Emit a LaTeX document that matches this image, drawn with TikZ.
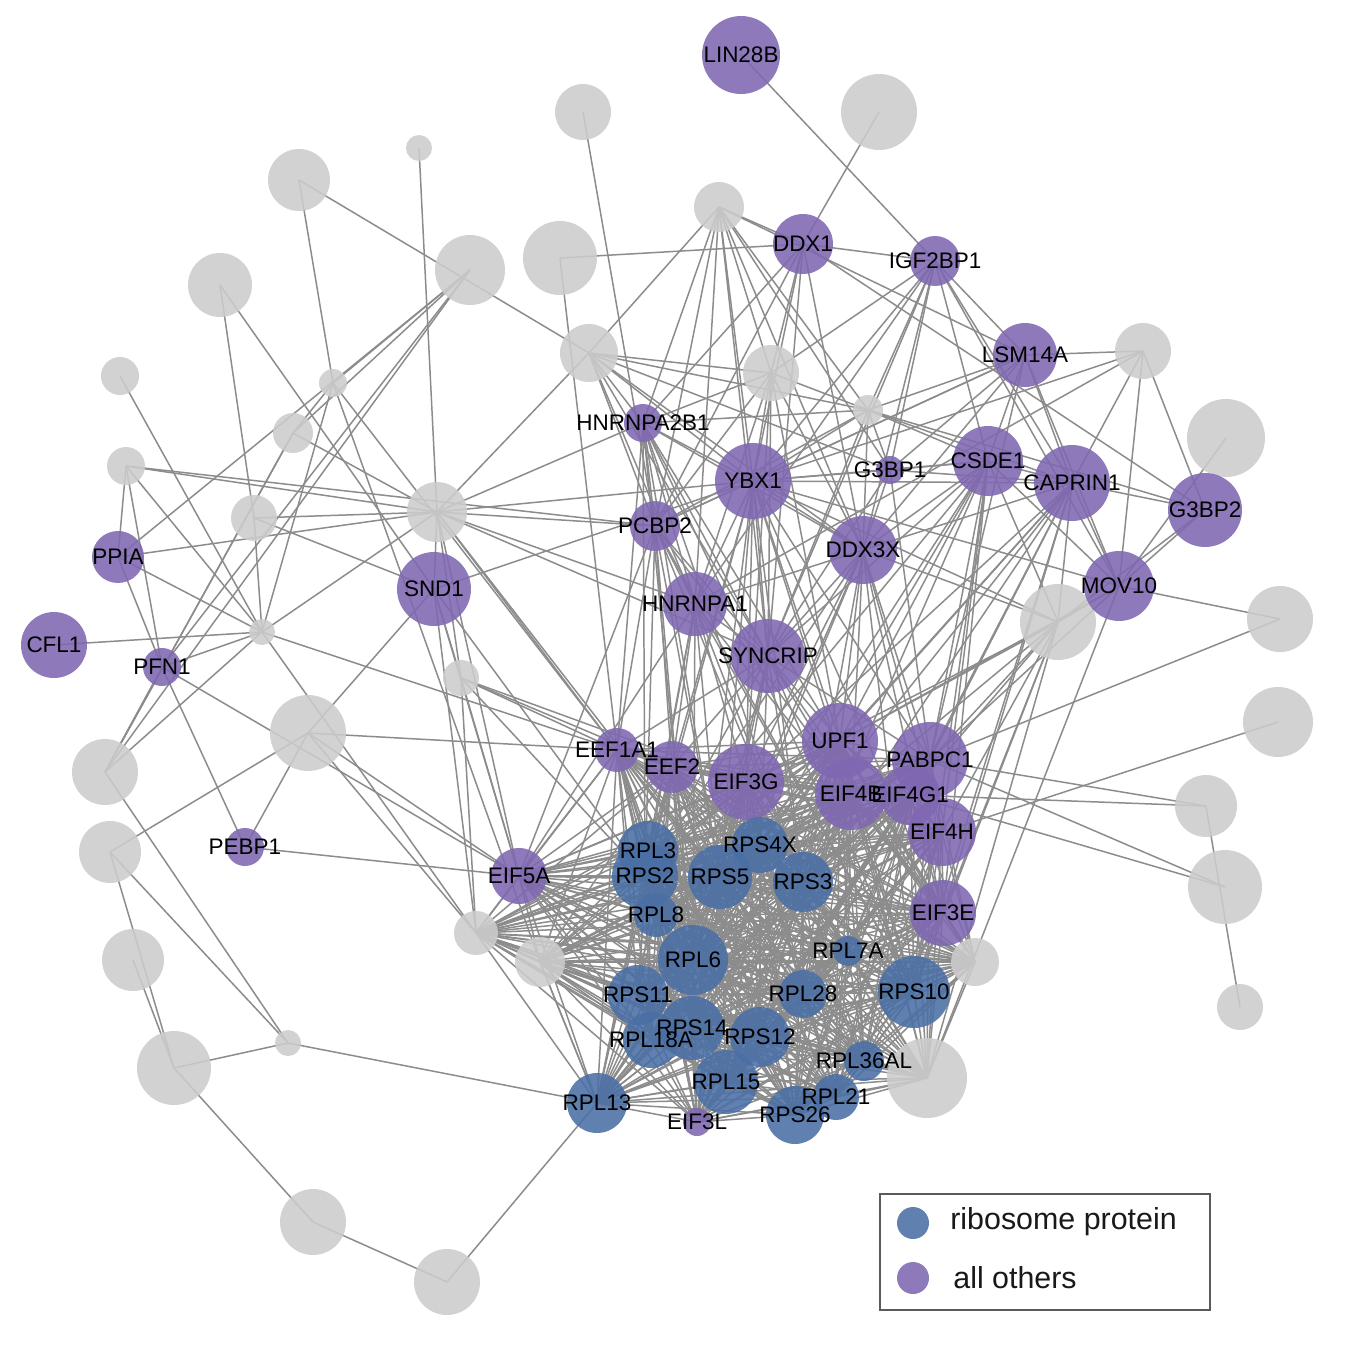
\documentclass[tikz,border=0pt]{standalone}
\usepackage{fontspec}
\setmainfont{Liberation Sans}
\usetikzlibrary{backgrounds}
\definecolor{pur}{RGB}{127,104,178}
\definecolor{blu}{RGB}{74,111,166}
\definecolor{gry}{RGB}{204,204,204}
\definecolor{edg}{RGB}{140,140,140}
\definecolor{legc}{RGB}{90,90,90}
\begin{document}
\begin{tikzpicture}[x=0.02cm,y=-0.02cm,
  nd/.style={circle,inner sep=0pt,draw=none,fill opacity=0.88,minimum size=#1*0.04cm},
  gn/.style={nd=#1,fill=gry},
  pn/.style={nd=#1,fill=pur},
  bn/.style={nd=#1,fill=blu},
  lab/.style={font=\fontsize{12.8}{14}\selectfont,text=black,inner sep=0pt},
  ed/.style={draw=edg,line width=0.85pt},
  edc/.style={draw=edg,line width=0.85pt},
  legtext/.style={font=\fontsize{17.3}{20}\selectfont,text=black!90,anchor=west,inner sep=0pt}]
\useasboundingbox (0,0) rectangle (1348,1366);
% ---------- gray nodes ----------
\node[gn=28] (g1) at (583,112) {};
\node[gn=38] (g2) at (879,112) {};
\node[gn=13] (g3) at (419,148) {};
\node[gn=31] (g4) at (299,180) {};
\node[gn=35] (g5) at (470,270) {};
\node[gn=37] (g6) at (560,258) {};
\node[gn=32] (g7) at (220,285) {};
\node[gn=25] (g8) at (719,207) {};
\node[gn=19] (g9) at (120,376) {};
\node[gn=14] (g10) at (333,383) {};
\node[gn=29] (g11) at (589,353) {};
\node[gn=28] (g12) at (771,373) {};
\node[gn=28] (g13) at (1143,351) {};
\node[gn=20] (g14) at (293,433) {};
\node[gn=15] (g15) at (868,410) {};
\node[gn=19] (g16) at (126,466) {};
\node[gn=39] (g17) at (1226,438) {};
\node[gn=30] (g18) at (437,512) {};
\node[gn=23] (g19) at (254,518) {};
\node[gn=13] (g20) at (262,632) {};
\node[gn=18] (g21) at (461,678) {};
\node[gn=38] (g22) at (308,733) {};
\node[gn=38] (g23) at (1058,622) {};
\node[gn=33] (g24) at (1280,619) {};
\node[gn=35] (g25) at (1278,722) {};
\node[gn=33] (g26) at (105,772) {};
\node[gn=31] (g27) at (110,852) {};
\node[gn=31] (g28) at (1206,806) {};
\node[gn=37] (g29) at (1225,887) {};
\node[gn=22] (g30) at (476,933) {};
\node[gn=31] (g31) at (133,960) {};
\node[gn=37] (g32) at (174,1068) {};
\node[gn=13] (g33) at (288,1043) {};
\node[gn=25] (g34) at (540,962) {};
\node[gn=33] (g35) at (313,1222) {};
\node[gn=33] (g36) at (447,1282) {};
\node[gn=24] (g37) at (975,962) {};
\node[gn=40] (g38) at (927,1078) {};
\node[gn=23] (g39) at (1240,1007) {};
% ---------- purple nodes ----------
\node[pn=39] (lin28b) at (741,55) {};
\node[pn=30] (ddx1) at (803,244) {};
\node[pn=25] (igf2bp1) at (935,261) {};
\node[pn=32] (lsm14a) at (1025,355) {};
\node[pn=19] (hnrnpa2b1) at (643,423) {};
\node[pn=38] (ybx1) at (753,481) {};
\node[pn=14] (g3bp1) at (890,470) {};
\node[pn=35] (csde1) at (988,461) {};
\node[pn=38] (caprin1) at (1072,483) {};
\node[pn=37] (g3bp2) at (1205,510) {};
\node[pn=25] (pcbp2) at (655,526) {};
\node[pn=34] (ddx3x) at (863,550) {};
\node[pn=32] (hnrnpa1) at (695,604) {};
\node[pn=37] (syncrip) at (768,656) {};
\node[pn=35] (mov10) at (1119,586) {};
\node[pn=37] (snd1) at (434,589) {};
\node[pn=26] (ppia) at (118,557) {};
\node[pn=33] (cfl1) at (54,645) {};
\node[pn=19] (pfn1) at (162,667) {};
\node[pn=19] (pebp1) at (245,847) {};
\node[pn=28] (eif5a) at (519,876) {};
\node[pn=22] (eef1a1) at (617,750) {};
\node[pn=26] (eef2) at (672,767) {};
\node[pn=38] (eif3g) at (746,782) {};
\node[pn=38] (upf1) at (840,741) {};
\node[pn=38] (pabpc1) at (930,760) {};
\node[pn=36] (eif4b) at (851,794) {};
\node[pn=30] (eif4g1) at (910,795) {};
\node[pn=34] (eif4h) at (942,832) {};
\node[pn=33] (eif3e) at (943,913) {};
% ---------- blue nodes ----------
\node[bn=30] (rpl3) at (648,851) {};
\node[bn=33] (rps2) at (645,876) {};
\node[bn=28] (rps4x) at (760,845) {};
\node[bn=32] (rps5) at (720,877) {};
\node[bn=30] (rps3) at (803,882) {};
\node[bn=22] (rpl8) at (656,915) {};
\node[bn=35] (rpl6) at (693,960) {};
\node[bn=15] (rpl7a) at (848,951) {};
\node[bn=30] (rps11) at (638,995) {};
\node[bn=24] (rpl28) at (803,994) {};
\node[bn=36] (rps10) at (914,992) {};
\node[bn=32] (rps14) at (692,1028) {};
\node[bn=28] (rpl18a) at (651,1040) {};
\node[bn=30] (rps12) at (760,1037) {};
\node[bn=20] (rpl36al) at (864,1061) {};
\node[bn=32] (rpl15) at (726,1082) {};
\node[bn=23] (rpl21) at (836,1097) {};
\node[bn=29] (rps26) at (795,1115) {};
\node[bn=30] (rpl13) at (597,1103) {};
\node[pn=14] (eif3l) at (697,1122) {};
% ---------- labels (on top of all circles) ----------
\foreach \n/\t in {lin28b/LIN28B,ddx1/DDX1,igf2bp1/IGF2BP1,lsm14a/LSM14A,hnrnpa2b1/HNRNPA2B1,
  ybx1/YBX1,g3bp1/G3BP1,csde1/CSDE1,caprin1/CAPRIN1,g3bp2/G3BP2,pcbp2/PCBP2,ddx3x/DDX3X,
  hnrnpa1/HNRNPA1,syncrip/SYNCRIP,mov10/MOV10,snd1/SND1,ppia/PPIA,cfl1/CFL1,pfn1/PFN1,
  pebp1/PEBP1,eif5a/EIF5A,eef1a1/EEF1A1,eef2/EEF2,eif3g/EIF3G,upf1/UPF1,pabpc1/PABPC1,
  eif4b/EIF4B,eif4g1/EIF4G1,eif4h/EIF4H,eif3e/EIF3E,rpl3/RPL3,rps2/RPS2,rps4x/RPS4X,rps5/RPS5,
  rps3/RPS3,rpl8/RPL8,rpl6/RPL6,rpl7a/RPL7A,rps11/RPS11,rpl28/RPL28,rps10/RPS10,rpl18a/RPL18A,
  rps14/RPS14,rps12/RPS12,rpl36al/RPL36AL,rpl15/RPL15,rpl21/RPL21,rps26/RPS26,rpl13/RPL13,eif3l/EIF3L}
  \node[lab] (\n-t) at (\n) {\t};
% ---------- legend ----------
\node[draw=legc,line width=1.3pt,minimum width=330*0.02cm,minimum height=116*0.02cm,inner sep=0pt] (legbox) at (1045,1252) {};
\node[bn=16] (legb) at (913,1223) {};
\node[legtext] (legbt) at (950,1222) {ribosome protein};
\node[pn=16] (legp) at (913,1278) {};
\node[legtext] (legpt) at (953,1278) {all others};
% ---------- edges ----------
\begin{scope}[on background layer]
\fill[white] (0,0) rectangle (1348,1366);
\foreach \a/\b in {lin28b/igf2bp1,g2/ddx1,g1/pcbp2,g6/ddx1,g6/eef1a1,g4/g11,g4/g10,g3/g18,
  g7/g19,g7/snd1,g9/g20,g16/ppia,g16/pfn1,g16/g20,g16/g18,g16/pcbp2,g5/ppia,g5/pfn1,g5/g26,
  g10/g5,g10/g14,g10/g34,g10/eef1a1,g14/g5,g14/g26,g14/g18,g19/g18,g19/snd1,
  ppia/g18,ppia/g20,ppia/pfn1,cfl1/g20,pfn1/g20,pfn1/pebp1,pfn1/g26,pfn1/eif5a,
  g20/g10,g20/g18,g20/eef1a1,g20/g30,g20/g19,g22/snd1,g22/eef1a1,g22/pebp1,g22/g30,g22/g27,g22/eif5a,
  g26/g14,g26/g33,g26/g20,g27/g32,g27/g33,g31/g32,g32/g33,g32/g35,g35/g36,g36/rpl13,g33/rpl13,g34/rpl13,
  pebp1/eif5a,snd1/g18,snd1/eif5a,snd1/g30,snd1/g21,snd1/rps2,snd1/ybx1,
  g21/eif5a,g21/g30,g21/eef1a1,g21/eef2,g21/eif3g,g21/rps2,
  g18/eef1a1,g18/eif5a,g18/ybx1,g18/hnrnpa1,g18/syncrip,g18/pcbp2,g18/g21,g18/hnrnpa2b1,g18/g11,g18/rps5,
  g11/g8,g11/g12,g11/hnrnpa2b1,g11/pcbp2,g11/hnrnpa1,g11/ybx1,g11/g15,g11/ddx3x,g11/syncrip,g11/g3bp1,
  g8/ddx1,g8/hnrnpa2b1,g8/pcbp2,g8/hnrnpa1,g8/ybx1,g8/g15,g8/lsm14a,g8/ddx3x,g8/g3bp1,g8/syncrip,g8/g12,
  ddx1/igf2bp1,ddx1/g3bp2,ddx1/hnrnpa2b1,ddx1/ybx1,ddx1/syncrip,ddx1/g12,ddx1/ddx3x,ddx1/pcbp2,
  igf2bp1/lsm14a,igf2bp1/g12,igf2bp1/csde1,igf2bp1/caprin1,igf2bp1/mov10,igf2bp1/g3bp1,igf2bp1/ddx3x,
  igf2bp1/ybx1,igf2bp1/syncrip,igf2bp1/hnrnpa1,igf2bp1/g15,
  lsm14a/g13,lsm14a/csde1,lsm14a/caprin1,lsm14a/g3bp1,lsm14a/ybx1,lsm14a/ddx3x,lsm14a/pcbp2,lsm14a/g15,
  lsm14a/mov10,lsm14a/pabpc1,
  g13/g3bp2,g13/caprin1,g13/mov10,g13/hnrnpa1,g13/ybx1,
  g3bp2/caprin1,g3bp2/mov10,g3bp2/g23,g17/mov10,
  mov10/g24,mov10/g23,mov10/caprin1,mov10/csde1,mov10/upf1,mov10/pabpc1,mov10/ybx1,mov10/g38,
  caprin1/csde1,caprin1/g3bp1,caprin1/ybx1,caprin1/ddx3x,caprin1/pabpc1,caprin1/upf1,caprin1/g23,caprin1/eif4g1,
  csde1/g3bp1,csde1/ybx1,csde1/pabpc1,csde1/upf1,csde1/ddx3x,csde1/g23,csde1/eif4h,csde1/syncrip,
  g3bp1/ybx1,g3bp1/ddx3x,g3bp1/syncrip,g3bp1/g15,g3bp1/pabpc1,
  g12/ybx1,g12/hnrnpa2b1,g12/syncrip,g12/ddx3x,g12/g15,g12/pcbp2,g12/hnrnpa1,g12/upf1,g12/eif3g,
  g15/hnrnpa2b1,g15/ybx1,g15/ddx3x,g15/csde1,g15/caprin1,g15/pcbp2,g15/syncrip,g15/g3bp2,
  ybx1/pcbp2,ybx1/ddx3x,ybx1/hnrnpa1,ybx1/syncrip,ybx1/hnrnpa2b1,ybx1/upf1,ybx1/pabpc1,ybx1/eif3g,ybx1/eef2,ybx1/g23,
  hnrnpa2b1/pcbp2,hnrnpa2b1/hnrnpa1,hnrnpa2b1/syncrip,hnrnpa2b1/ddx3x,hnrnpa2b1/eef1a1,
  pcbp2/hnrnpa1,pcbp2/syncrip,pcbp2/eef2,pcbp2/eif5a,pcbp2/eef1a1,
  ddx3x/syncrip,ddx3x/upf1,ddx3x/pabpc1,ddx3x/eif4b,ddx3x/eif3g,ddx3x/g23,ddx3x/eif4h,ddx3x/hnrnpa1,
  hnrnpa1/syncrip,hnrnpa1/eef2,hnrnpa1/eif3g,hnrnpa1/eif5a,hnrnpa1/rpl3,
  syncrip/upf1,syncrip/eif3g,syncrip/pabpc1,syncrip/eif4b,syncrip/eef2,syncrip/eef1a1,syncrip/rps4x,
  g23/pabpc1,g23/upf1,g23/eif4g1,g23/eif4h,g23/eif3e,g23/eif3g,g23/rps10,g23/g38,g23/eif4b,
  g24/pabpc1,g25/eif4h,g28/pabpc1,g28/eif4g1,g28/g39,g29/pabpc1,g29/eif4g1}
  \draw[ed] (\a.center) -- (\b.center);
\foreach \a in {ybx1,syncrip,ddx3x,hnrnpa1,pcbp2,csde1,caprin1,hnrnpa2b1}
  \foreach \b in {rps2,rps5,rps3,rpl6,rps10,eif3e}
    \draw[ed] (\a.center) -- (\b.center);
\def\clist{rpl3,rps2,rps4x,rps5,rps3,rpl8,rpl6,rpl7a,rps11,rpl28,rps10,rps14,rpl18a,rps12,rpl36al,rpl15,rpl21,rps26,rpl13,eif3l,eif3g,eif3e,eif4b,eif4g1,eif4h,pabpc1,upf1,eef2,eef1a1,eif5a,g30,g34,g37,g38}
\foreach \a [count=\i] in \clist {
  \foreach \b [count=\j] in \clist {
    \ifnum\j>\i \draw[edc] (\a.center) -- (\b.center); \fi
  }
}
\end{scope}
\end{tikzpicture}
\end{document}
